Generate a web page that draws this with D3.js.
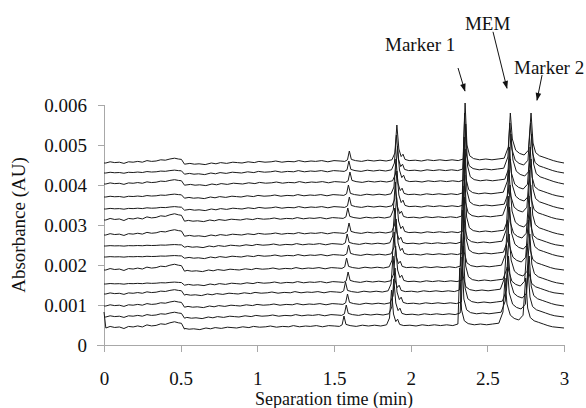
<!DOCTYPE html>
<html>
<head>
<meta charset="utf-8">
<script src="https://cdn.jsdelivr.net/npm/d3@7"></script>
<style>
  body { margin: 0; background: #fff; }
  svg { display: block; font-family: "Liberation Serif", "Times New Roman", serif; }
  .axis path, .axis line { stroke: #a8a8a8; shape-rendering: crispEdges; }
  .axis text { fill: #111; font-size: 19px; font-family: "Liberation Serif", "Times New Roman", serif; }
  .trace { fill: none; stroke: #1a1a1a; stroke-width: 1; stroke-linejoin: round; }
</style>
</head>
<body>
<div id="chart"></div>
<script>
// x ticks (min) and y ticks (AU)
const xTicks = [0, 0.5, 1, 1.5, 2, 2.5, 3];
const yTicks = [0, 0.001, 0.002, 0.003, 0.004, 0.005, 0.006];

// shape of one electropherogram (absorbance above its baseline)
const profileTime = [0, 0.012, 0.04, 0.07, 0.1, 0.13, 0.16, 0.19, 0.22, 0.25, 0.28, 0.31, 0.34, 0.37, 0.4,
  0.43, 0.46, 0.485, 0.505,
  0.525, 0.56, 0.59, 0.62, 0.66, 0.7, 0.73, 0.76, 0.8, 0.84, 0.87, 0.9, 0.94, 0.98, 1.01, 1.05, 1.09, 1.12,
  1.16, 1.2, 1.24, 1.27, 1.31, 1.35, 1.38, 1.42, 1.46, 1.5, 1.54, 1.57, 1.588, 1.6, 1.613, 1.64, 1.68, 1.72,
  1.76, 1.8, 1.84, 1.878, 1.897, 1.91, 1.923, 1.938, 1.95, 1.963, 1.99, 2.03, 2.07, 2.11, 2.15, 2.19, 2.23,
  2.27, 2.31, 2.343, 2.355, 2.367, 2.385, 2.41, 2.45, 2.49, 2.53, 2.57, 2.61, 2.637, 2.65, 2.663, 2.685,
  2.71, 2.74, 2.768, 2.785, 2.798, 2.815, 2.84, 2.87, 2.9, 2.93, 2.96, 3.0];
const profileValue = [0, 0, 0.00003, 0.00001, 0.00002, -0.00001, 0.00003, 0.00002, 0.00004, 0.00002,
  0.00006, 0.00004, 0.00005, 0.00008, 0.00007, 0.0001, 0.00012, 0.0001, 0.00009,
  -0.00003, -0.00001, -0.00003, -0.00002, -0.00004, 0, -0.00002, 0.00001, -0.00001, 0.00002, 0.00001,
  0, 0.00003, 0.00001, 0.00004, 0.00002, 0.00003, 0.00005, 0.00002, 0.00004, 0.00003, 0.00006, 0.00003,
  0.00005, 0.00004, 0.00006, 0.00003, 0.00006, 0.00005, 0.00004, 0.00008, 0.0003, 0.00009, 0.00006, 0.00004,
  0.00007, 0.00005, 0.00007, 0.00005, 0.00008, 0.00025, 0.00095, 0.00035, 0.00016, 0.00022, 0.00009, 0.00006,
  0.00007, 0.00005, 0.00008, 0.00006, 0.00008, 0.00006, 0.00008, 0.00006, 0.0001, 0.0015, 0.00045, 0.00018,
  0.00011, 0.00008, 0.0001, 0.00008, 0.0001, 0.00012, 0.0004, 0.00125, 0.0006, 0.00032, 0.00024, 0.0002,
  0.00032, 0.00125, 0.0005, 0.00026, 0.00018, 0.00014, 0.0001, 0.00006, 0.00003, 0];

// per run, bottom to top
const baselines = [0.000425, 0.0007, 0.000975, 0.001275, 0.001525, 0.001875, 0.0022, 0.002475, 0.00275,
  0.003125, 0.0034, 0.0037, 0.004025, 0.0043, 0.00455];
const shifts = [-0.035, -0.02, -0.012, -0.025, -0.008, -0.018, -0.005, -0.014, -0.002, -0.01, 0, -0.006,
  0.004, -0.003, 0];
const humpScale = [1.3, 1.0, 1.0, 0.9, 0.4, 1.2, 0.3, 0.3, 1.1, 1.3, 0.5, 0.6, 0.9, 0.6, 1.0];
const startSpike = [0.0004, 0, 0, 0, 0, 0, 0, 0, 0, 0, 0, 0, 0, 0, 0];

// peak labels: text position and arrow tail/tip in data units
const labels = ["Marker 1", "MEM", "Marker 2"];
const labelPos = [[1.833, 0.00735], [2.354, 0.007875], [2.674, 0.006775]];
const arrowFrom = [[2.309, 0.006925], [2.537, 0.00783], [2.857, 0.00675]];
const arrowTo = [[2.354, 0.00635], [2.628, 0.00642], [2.824, 0.00612]];

const width = 586, height = 408;
const margin = { top: 105, right: 22, bottom: 63, left: 104 };

const svg = d3.select("#chart").append("svg")
    .attr("width", width)
    .attr("height", height);

const x = d3.scaleLinear().domain([0, 3]).range([margin.left, width - margin.right]);
const y = d3.scaleLinear().domain([0, 0.006]).range([height - margin.bottom, margin.top]);

svg.append("defs").append("marker")
    .attr("id", "head")
    .attr("viewBox", "0 0 10 10")
    .attr("refX", 9).attr("refY", 5)
    .attr("markerWidth", 9).attr("markerHeight", 8)
    .attr("markerUnits", "userSpaceOnUse")
    .attr("orient", "auto")
    .append("path").attr("d", "M0,1.5 L10,5 L0,8.5 Z").attr("fill", "#111");

svg.append("g")
    .attr("class", "axis")
    .attr("transform", `translate(0,${y(0)})`)
    .call(d3.axisBottom(x).tickValues(xTicks).tickSize(7).tickPadding(20).tickFormat(d3.format("")))
    .call(g => g.select(".domain").attr("d", `M${x(0) - 7},0.5H${x(3)}`));

svg.append("g")
    .attr("class", "axis")
    .attr("transform", `translate(${x(0)},0)`)
    .call(d3.axisLeft(y).tickValues(yTicks).tickSize(6).tickPadding(11).tickFormat(d => d === 0 ? "0" : d3.format(".3f")(d)))
    .call(g => g.select(".domain").attr("d", `M0.5,${y(0) + 7}V${y(0.006)}`));

const line = d3.line().x(d => x(d[0])).y(d => y(d[1]));

const runs = baselines.map((b, i) => profileTime.map((t, j) => {
    const tt = (t > 0.55 && t < 3) ? t + shifts[i] : t;
    let v = profileValue[j] * (t < 0.52 ? humpScale[i] : 1);
    if (j === 0) v += startSpike[i];
    return [tt, b + v];
}));

svg.append("g").selectAll("path")
    .data(runs)
    .join("path")
    .attr("class", "trace")
    .attr("d", line);

svg.append("g").selectAll("line")
    .data(labels)
    .join("line")
    .attr("x1", (d, i) => x(arrowFrom[i][0]))
    .attr("y1", (d, i) => y(arrowFrom[i][1]))
    .attr("x2", (d, i) => x(arrowTo[i][0]))
    .attr("y2", (d, i) => y(arrowTo[i][1]))
    .attr("stroke", "#111")
    .attr("stroke-width", 1)
    .attr("marker-end", "url(#head)");

svg.append("g").selectAll("text")
    .data(labels)
    .join("text")
    .attr("x", (d, i) => x(labelPos[i][0]))
    .attr("y", (d, i) => y(labelPos[i][1]))
    .attr("font-size", 19)
    .attr("fill", "#111")
    .text(d => d);

svg.append("text")
    .attr("x", (x(0) + x(3)) / 2)
    .attr("y", 405)
    .attr("text-anchor", "middle")
    .attr("font-size", 18)
    .attr("fill", "#111")
    .text("Separation time (min)");

svg.append("text")
    .attr("transform", `translate(25,${(y(0) + y(0.006)) / 2}) rotate(-90)`)
    .attr("text-anchor", "middle")
    .attr("font-size", 19)
    .attr("fill", "#111")
    .text("Absorbance (AU)");
</script>
</body>
</html>
